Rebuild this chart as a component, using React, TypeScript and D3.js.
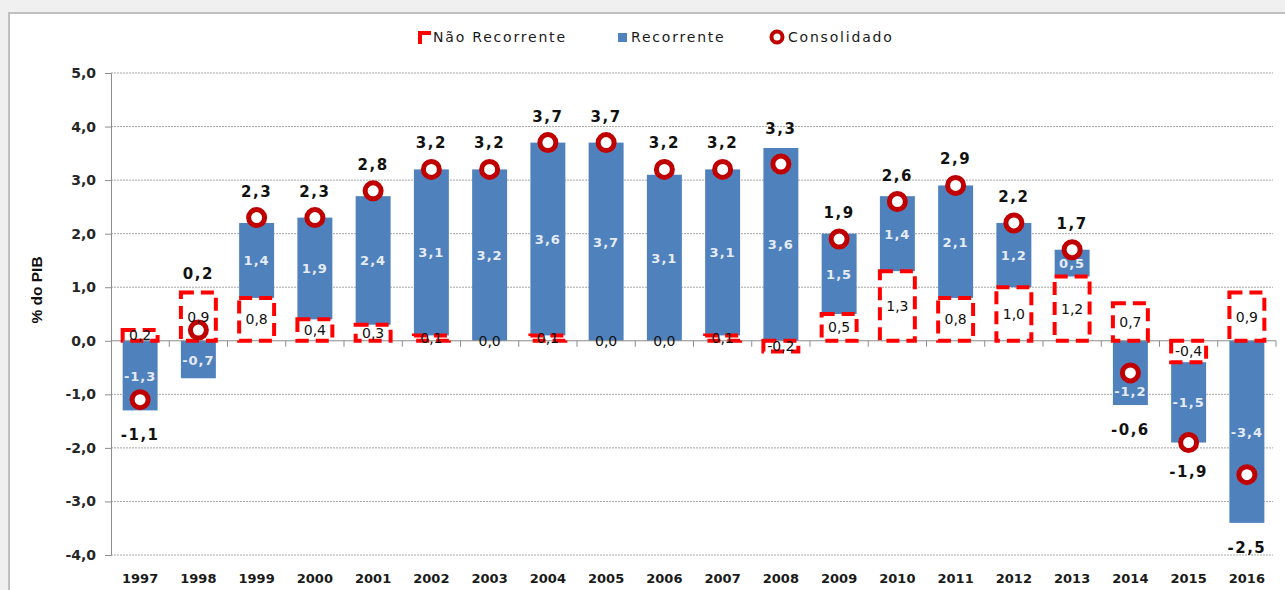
import * as d3 from 'd3'
import { useEffect, useRef } from 'react'

const years = ['1997', '1998', '1999', '2000', '2001', '2002', '2003', '2004', '2005', '2006', '2007', '2008', '2009', '2010', '2011', '2012', '2013', '2014', '2015', '2016']
const naoRecorrente = [0.2, 0.9, 0.8, 0.4, 0.3, 0.1, 0.0, 0.1, 0.0, 0.0, 0.1, -0.2, 0.5, 1.3, 0.8, 1.0, 1.2, 0.7, -0.4, 0.9]
const recorrente = [-1.3, -0.7, 1.4, 1.9, 2.4, 3.1, 3.2, 3.6, 3.7, 3.1, 3.1, 3.6, 1.5, 1.4, 2.1, 1.2, 0.5, -1.2, -1.5, -3.4]
const consolidado = [-1.1, 0.2, 2.3, 2.3, 2.8, 3.2, 3.2, 3.7, 3.7, 3.2, 3.2, 3.3, 1.9, 2.6, 2.9, 2.2, 1.7, -0.6, -1.9, -2.5]
const yTicks = [-4, -3, -2, -1, 0, 1, 2, 3, 4, 5]

const RED = '#ff0000'
const BLUE = '#4f81bd'
const DARKRED = '#c00000'
const FONT = '"DejaVu Sans", Verdana, sans-serif'

const fmt = d3
	.formatLocale({ decimal: ',', thousands: '.', grouping: [3], currency: ['', ''], minus: '-' })
	.format('.1f')

export default function App() {
	const svgRef = useRef<SVGSVGElement>(null)

	useEffect(() => {
		const svg = d3.select(svgRef.current)
		svg.selectAll('*').remove()

		// background + chart frame
		svg.append('rect').attr('width', 1285).attr('height', 590).attr('fill', '#f0f0f0')
		svg
			.append('rect')
			.attr('x', 9)
			.attr('y', 13)
			.attr('width', 1300)
			.attr('height', 600)
			.attr('fill', 'white')
			.attr('stroke', '#c0c0c0')
			.attr('stroke-width', 2)

		const x = d3.scaleBand().domain(years).range([111, 1276]).paddingInner(0.4).paddingOuter(0.2)
		const y = d3.scaleLinear().domain([-4, 5]).range([555, 73])

		const rows = years.map((yr, i) => ({ year: yr, nr: naoRecorrente[i], rec: recorrente[i], cons: consolidado[i] }))
		const series = d3.stack<any>().keys(['nr', 'rec']).offset(d3.stackOffsetDiverging)(rows)
		const nrS = series[0]
		const recS = series[1]

		// grid
		svg
			.append('g')
			.selectAll('line')
			.data(yTicks.filter((t) => t !== 0))
			.join('line')
			.attr('x1', 111)
			.attr('x2', 1273)
			.attr('y1', (d) => y(d))
			.attr('y2', (d) => y(d))
			.attr('stroke', '#a6a6a6')
			.attr('stroke-dasharray', '2,1')

		// y axis
		const yAxis = svg
			.append('g')
			.attr('transform', 'translate(111,0)')
			.call(
				d3
					.axisLeft(y)
					.tickValues(yTicks)
					.tickSize(6)
					.tickPadding(9)
					.tickFormat((d) => fmt(d as number))
			)
		yAxis.select('.domain').attr('stroke', '#8c8c8c')
		yAxis.selectAll('.tick line').attr('stroke', '#8c8c8c')
		yAxis
			.selectAll('.tick text')
			.attr('font-family', FONT)
			.attr('font-size', 14)
			.attr('font-weight', 'bold')
			.attr('fill', '#262626')

		svg
			.append('text')
			.attr('transform', 'translate(42,290) rotate(-90)')
			.attr('text-anchor', 'middle')
			.attr('font-family', '"Liberation Sans", Arial, sans-serif')
			.attr('font-weight', 'bold')
			.attr('font-size', 15.5)
			.attr('fill', '#111')
			.text('% do PIB')

		// recorrente bars
		svg
			.append('g')
			.selectAll('rect')
			.data(recS)
			.join('rect')
			.attr('x', (d) => x(d.data.year)!)
			.attr('width', x.bandwidth())
			.attr('y', (d) => y(Math.max(d[0], d[1])))
			.attr('height', (d) => Math.abs(y(d[0]) - y(d[1])))
			.attr('fill', BLUE)

		// zero axis + category ticks
		svg.append('line').attr('x1', 111).attr('x2', 1276).attr('y1', y(0)).attr('y2', y(0)).attr('stroke', '#8c8c8c')
		svg
			.append('g')
			.selectAll('line')
			.data(years)
			.join('line')
			.attr('x1', (d) => x(d)! + x.bandwidth() / 2 + x.step() / 2)
			.attr('x2', (d) => x(d)! + x.bandwidth() / 2 + x.step() / 2)
			.attr('y1', y(0))
			.attr('y2', y(0) + 6)
			.attr('stroke', '#8c8c8c')

		// não recorrente dashed boxes
		svg
			.append('g')
			.selectAll('rect')
			.data(nrS)
			.join('rect')
			.attr('x', (d) => x(d.data.year)!)
			.attr('width', x.bandwidth())
			.attr('y', (d) => y(Math.max(d[0], d[1])))
			.attr('height', (d) => Math.abs(y(d[0]) - y(d[1])))
			.attr('fill', 'none')
			.attr('stroke', RED)
			.attr('stroke-width', 4)
			.attr('stroke-dasharray', '13,7')

		// consolidado markers
		svg
			.append('g')
			.selectAll('circle')
			.data(rows)
			.join('circle')
			.attr('cx', (d) => x(d.year)! + x.bandwidth() / 2)
			.attr('cy', (d) => y(d.cons))
			.attr('r', 8)
			.attr('fill', 'white')
			.attr('stroke', DARKRED)
			.attr('stroke-width', 5)

		// labels: não recorrente
		svg
			.append('g')
			.selectAll('text')
			.data(nrS)
			.join('text')
			.attr('x', (d) => x(d.data.year)! + x.bandwidth() / 2)
			.attr('y', (d) => y((d[0] + d[1]) / 2) + 5)
			.attr('text-anchor', 'middle')
			.attr('font-family', FONT)
			.attr('font-size', 14)
			.attr('fill', '#111')
			.text((d) => fmt(d.data.nr))

		// labels: recorrente (moved below the marker when they would collide)
		svg
			.append('g')
			.selectAll('text')
			.data(recS)
			.join('text')
			.attr('x', (d) => x(d.data.year)! + x.bandwidth() / 2)
			.attr('y', (d) => {
				const cy = y((d[0] + d[1]) / 2)
				const my = y(d.data.cons)
				return (Math.abs(cy - my) < 12 ? my + 18 : cy) + 5
			})
			.attr('text-anchor', 'middle')
			.attr('font-family', FONT)
			.attr('font-size', 13)
			.attr('font-weight', 'bold')
			.attr('letter-spacing', 1)
			.attr('fill', '#e6ecf5')
			.text((d) => fmt(d.data.rec))

		// labels: consolidado
		svg
			.append('g')
			.selectAll('text')
			.data(rows)
			.join('text')
			.attr('x', (d) => x(d.year)! + x.bandwidth() / 2)
			.attr('y', (d, i) => {
				const top = Math.max(nrS[i][1], recS[i][1])
				const bottom = Math.min(nrS[i][0], recS[i][0])
				if (d.cons >= 0) return Math.min(y(d.cons) - 21, y(top) - 14)
				return Math.max(y(d.cons) + 34, y(bottom) + 30)
			})
			.attr('text-anchor', 'middle')
			.attr('font-family', FONT)
			.attr('font-size', 15)
			.attr('font-weight', 'bold')
			.attr('letter-spacing', 1.5)
			.attr('fill', '#111')
			.text((d) => fmt(d.cons))

		// year labels
		svg
			.append('g')
			.selectAll('text')
			.data(years)
			.join('text')
			.attr('x', (d) => x(d)! + x.bandwidth() / 2)
			.attr('y', 583)
			.attr('text-anchor', 'middle')
			.attr('font-family', FONT)
			.attr('font-size', 13)
			.attr('font-weight', 'bold')
			.attr('fill', '#1a1a1a')
			.text((d) => d)

		// legend
		const lg = svg.append('g').attr('font-family', FONT).attr('font-size', 14).attr('fill', '#1a1a1a')
		lg.append('path').attr('d', 'M420,44 V33 H431').attr('fill', 'none').attr('stroke', RED).attr('stroke-width', 4)
		lg.append('text').attr('x', 433).attr('y', 42).attr('letter-spacing', 1.8).text('Não Recorrente')
		lg.append('rect').attr('x', 618).attr('y', 33).attr('width', 9).attr('height', 9).attr('fill', BLUE)
		lg.append('text').attr('x', 631).attr('y', 42).attr('letter-spacing', 1.8).text('Recorrente')
		lg.append('circle').attr('cx', 777).attr('cy', 37).attr('r', 5.5).attr('fill', 'white').attr('stroke', DARKRED).attr('stroke-width', 4)
		lg.append('text').attr('x', 788).attr('y', 42).attr('letter-spacing', 1.8).text('Consolidado')
	}, [])

	return (
		<svg
			ref={svgRef}
			width={1285}
			height={590}
			style={{ position: 'absolute', left: 0, top: 0, display: 'block' }}
		/>
	)
}
